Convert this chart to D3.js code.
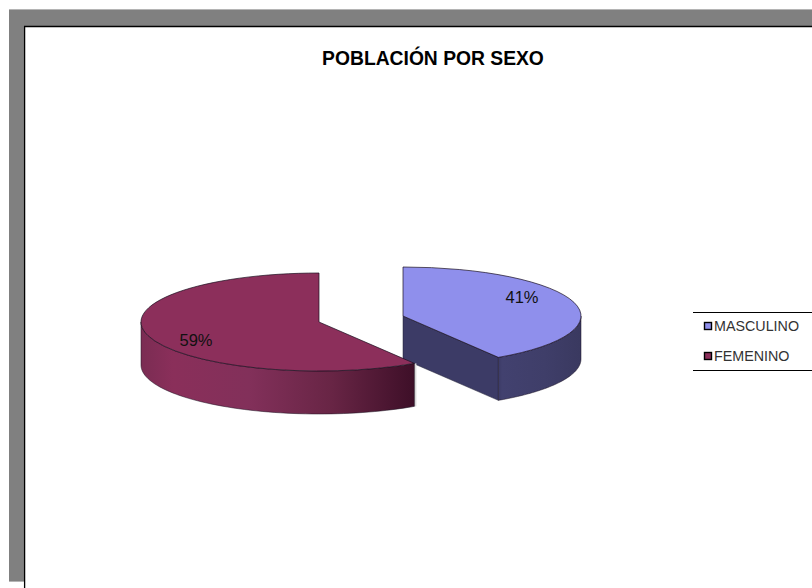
<!DOCTYPE html>
<meta charset="utf-8">
<style>
html, body { margin: 0; padding: 0; background: #fff; }
svg { display: block; }
text { font-family: "Liberation Sans", Arial, sans-serif; }
</style>
<svg width="812" height="588"></svg>
<script src="https://d3js.org/d3.v7.min.js"></script>
<script>

var title = "POBLACIÓN POR SEXO";
var categories = ["MASCULINO", "FEMENINO"];
var percentages = [41, 59];
var topColors = ["#8f8fec", "#8c2f5b"];

var svg = d3.select("svg");

// sheet frame
svg.append("rect").attr("x", 9).attr("y", 9).attr("width", 803).attr("height", 573).attr("fill", "#808080");
svg.append("rect").attr("x", 9).attr("y", 9).attr("width", 803).attr("height", 1).attr("fill", "#b4b4b4");
svg.append("rect").attr("x", 9).attr("y", 581).attr("width", 15).attr("height", 1).attr("fill", "#b4b4b4");
svg.append("rect").attr("x", 24).attr("y", 26).attr("width", 788).attr("height", 562).attr("fill", "#fff");
svg.append("path").attr("d", "M24.6,588V26.5H812").attr("fill", "none").attr("stroke", "#000").attr("stroke-width", 1.3);

svg.append("text")
    .attr("x", 433).attr("y", 65)
    .attr("text-anchor", "middle")
    .attr("font-size", 19.3).attr("font-weight", "bold")
    .text(title);

var defs = svg.append("defs");

var womanGrad = defs.append("linearGradient").attr("id", "wall-1")
    .attr("gradientUnits", "userSpaceOnUse")
    .attr("x1", 140).attr("x2", 414).attr("y1", 0).attr("y2", 0);
[[0, "#7a2c53"], [0.12, "#8a2f5a"], [0.4, "#82305a"], [0.7, "#682545"], [1, "#3e0f28"]].forEach(function(s) {
  womanGrad.append("stop").attr("offset", s[0]).attr("stop-color", s[1]);
});

var manGrad = defs.append("linearGradient").attr("id", "wall-0")
    .attr("gradientUnits", "userSpaceOnUse")
    .attr("x1", 403).attr("x2", 580).attr("y1", 0).attr("y2", 0);
[[0, "#3c3b66"], [0.54, "#3c3b66"], [0.56, "#42416f"], [0.8, "#3f3e69"], [1, "#3a3960"]].forEach(function(s) {
  manGrad.append("stop").attr("offset", s[0]).attr("stop-color", s[1]);
});

var pie = d3.pie().sort(null).value(function(d) { return d; });
var arcs = pie(percentages);

var rx = 178, ry = 49, depth = 43;
var centers = [[403, 316], [319, 322]];
var labelPos = [[522, 303], [196, 346]];

var arc = d3.arc().innerRadius(0).outerRadius(rx);
var line = d3.line();

function rim(a0, a1, cx, cy, dy) {
  return d3.range(0, 61).map(function(i) {
    var a = a0 + (a1 - a0) * i / 60;
    return [cx + rx * Math.sin(a), cy + dy - ry * Math.cos(a)];
  });
}

// male slice goes first, the tip of the female slice sits over its wall
arcs.forEach(function(d, i) {
  var c = centers[i];
  var g = svg.append("g");

  // outer wall: only the front half of the ellipse shows
  var a0 = Math.max(d.startAngle, Math.PI / 2);
  var a1 = Math.min(d.endAngle, Math.PI * 1.5);
  var front = rim(a0, a1, c[0], c[1], 0);
  var back = rim(a1, a0, c[0], c[1], depth);

  if (i === 1) {
    // soft edge right of the female tip
    g.append("path")
        .attr("d", line(front.concat(back)) + "Z")
        .attr("transform", "translate(2,0)")
        .attr("fill", "#d8d8d8");
  }

  if (i === 0) {
    // cut face of the male slice, from centre to the tip
    var tip = [c[0] + rx * Math.sin(d.endAngle), c[1] - ry * Math.cos(d.endAngle)];
    g.append("path")
        .attr("d", line([[c[0], c[1]], tip, [tip[0], tip[1] + depth], [c[0], c[1] + depth]]) + "Z")
        .attr("fill", "#3c3b66").attr("stroke", "#1c1c30").attr("stroke-width", 0.5);
  }

  g.append("path")
      .attr("d", line(front.concat(back)) + "Z")
      .attr("fill", "url(#wall-" + i + ")")
      .attr("stroke", "#1a1020").attr("stroke-width", 0.5);

  g.append("path")
      .attr("d", arc(d))
      .attr("transform", "translate(" + c[0] + "," + c[1] + ") scale(1," + (ry / rx) + ")")
      .attr("fill", topColors[i])
      .attr("stroke", "#1a1020").attr("stroke-width", 0.7)
      .attr("vector-effect", "non-scaling-stroke");

  g.append("text")
      .attr("x", labelPos[i][0]).attr("y", labelPos[i][1])
      .attr("text-anchor", "middle")
      .attr("font-size", 16.5)
      .attr("fill", "#111")
      .text(d.data + "%");
});

// legend
var legendY = d3.scalePoint().domain(categories).range([326, 356]);

svg.append("path")
    .attr("d", "M693,312.5H812M693,370.5H812")
    .attr("stroke", "#000").attr("fill", "none");

var item = svg.selectAll(".item").data(categories).enter().append("g").attr("class", "item");

item.append("rect")
    .attr("x", 704.5)
    .attr("y", function(d) { return legendY(d) - 3.5; })
    .attr("width", 7).attr("height", 7)
    .attr("fill", function(d, i) { return topColors[i]; })
    .attr("stroke", "#000").attr("stroke-width", 1.4);

item.append("text")
    .attr("x", 714)
    .attr("y", function(d) { return legendY(d) + 5; })
    .attr("font-size", 14.3)
    .attr("fill", "#333")
    .text(function(d) { return d; });

</script>
